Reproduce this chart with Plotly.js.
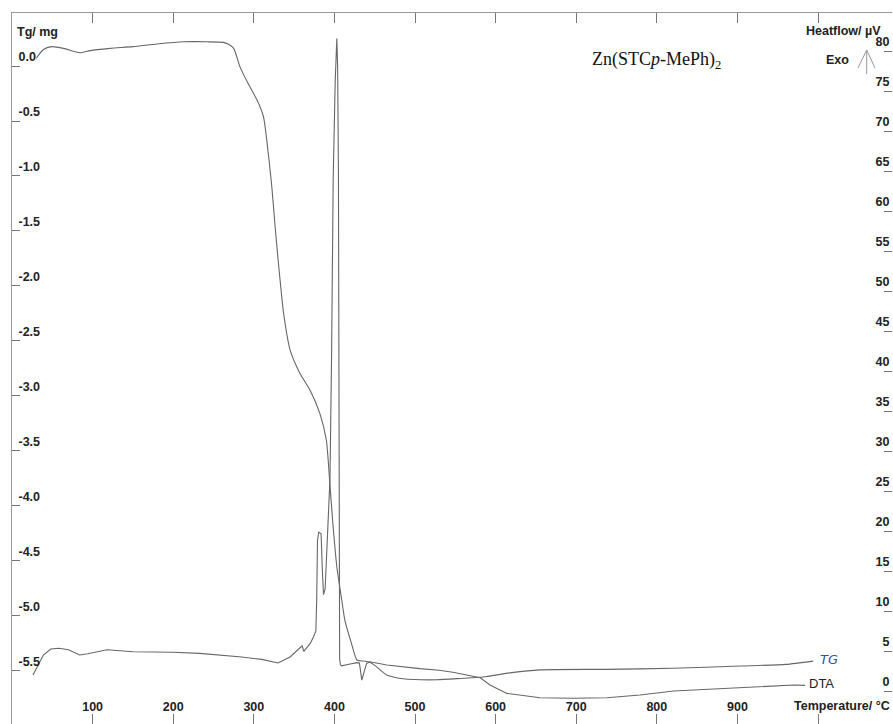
<!DOCTYPE html>
<html>
<head>
<meta charset="utf-8">
<script src="https://cdn.plot.ly/plotly-3.0.1.min.js"></script>
<style>
  html, body { margin: 0; padding: 0; background: #ffffff; overflow: hidden; }
  #chart { width: 893px; height: 724px; }
</style>
</head>
<body>
<div id="chart"></div>
<script>
// ---- Data ----
// TG curve (left axis, mg)
const tgTemp = [30, 39, 49, 64, 84, 97, 122, 150, 180, 213, 242, 262, 268, 275, 283, 293, 304, 312, 316, 322, 326, 330, 334, 337, 345, 357, 370, 382, 390, 394, 398, 403, 409, 413, 421, 428, 436, 444, 452, 465, 485, 527, 560, 581, 589, 620, 655, 738, 820, 903, 960, 994];
const tgMass = [0.07, 0.15, 0.176, 0.16, 0.12, 0.14, 0.16, 0.176, 0.2, 0.22, 0.22, 0.215, 0.2, 0.16, -0.01, -0.16, -0.31, -0.46, -0.67, -1.07, -1.42, -1.75, -2.05, -2.25, -2.58, -2.79, -2.95, -3.16, -3.4, -3.76, -4.15, -4.55, -4.85, -5.04, -5.245, -5.4, -5.41, -5.42, -5.46, -5.536, -5.57, -5.58, -5.566, -5.557, -5.55, -5.515, -5.49, -5.485, -5.475, -5.455, -5.44, -5.41];

// DTA curve (right axis, heat flow µV)
const dtaTemp = [26, 33, 39, 48, 58, 70, 84, 94, 118, 150, 200, 233, 260, 285, 310, 330, 345, 352, 360, 362, 366, 370, 374, 377, 378, 379, 380.5, 383.5, 385, 386.5, 388.5, 390.5, 392.5, 394.5, 396.5, 398.5, 401, 403, 404, 405, 405.5, 405.8, 406.1, 406.5, 407.5, 409, 418, 428, 431, 434, 437, 440, 444, 465, 506, 530, 547, 565, 581, 593, 614, 655, 696, 738, 779, 821, 862, 903, 945, 970, 984];
const dtaHeat = [2.0, 3.45, 4.5, 5.25, 5.35, 5.15, 4.5, 4.65, 5.15, 4.9, 4.85, 4.7, 4.5, 4.25, 3.95, 3.5, 4.25, 4.85, 5.65, 4.95, 5.45, 5.95, 6.75, 7.5, 11.25, 18.75, 19.85, 19.65, 15.25, 12.05, 12.75, 17.0, 21.0, 26.5, 42.0, 64.0, 76.25, 81.55, 78.0, 65.0, 45.0, 25.0, 10.0, 4.0, 3.25, 3.15, 3.35, 3.55, 3.5, 1.35, 2.45, 3.45, 3.65, 3.25, 2.8, 2.6, 2.35, 2.0, 1.65, 0.75, -0.3, -0.85, -0.9, -0.85, -0.5, 0.0, 0.2, 0.45, 0.6, 0.75, 0.7];

// Tick labels
const tempTicks = [100, 200, 300, 400, 500, 600, 700, 800, 900, 1000];
const tempTickText = ['100', '200', '300', '400', '500', '600', '700', '800', '900', ' '];
const tgTicks = [0, -0.5, -1.0, -1.5, -2.0, -2.5, -3.0, -3.5, -4.0, -4.5, -5.0, -5.5];
const tgTickText = ['0.0', '-0.5', '-1.0', '-1.5', '-2.0', '-2.5', '-3.0', '-3.5', '-4.0', '-4.5', '-5.0', '-5.5'];
const hfTicks = [0, 5, 10, 15, 20, 25, 30, 35, 40, 45, 50, 55, 60, 65, 70, 75, 80];
const hfTickText = hfTicks.map(String);

// ---- Plot ----
const lineColor = '#666666';
const txt = '#222222';
const boldFont = {family: 'Liberation Sans, Arial, sans-serif', size: 12.5, color: txt, weight: 'bold'};

const traces = [
  {x: tgTemp, y: tgMass, xaxis: 'x', yaxis: 'y', mode: 'lines', name: 'TG',
   line: {color: lineColor, width: 1.1, shape: 'spline', smoothing: 0.6}, hoverinfo: 'skip', showlegend: false},
  {x: dtaTemp, y: dtaHeat, xaxis: 'x', yaxis: 'y2', mode: 'lines', name: 'DTA',
   line: {color: lineColor, width: 1.1}, hoverinfo: 'skip', showlegend: false}
];

const layout = {
  width: 893, height: 724,
  margin: {l: 12, r: 1, t: 13, b: 0, pad: 0},
  paper_bgcolor: '#ffffff', plot_bgcolor: '#ffffff',
  showlegend: false,
  xaxis: {
    range: [0, 1091.8], tickvals: tempTicks, ticktext: tempTickText,
    ticks: 'inside', ticklen: 10, tickcolor: '#777', tickwidth: 1,
    showline: true, linecolor: '#999', linewidth: 1, mirror: 'ticks',
    ticklabelposition: 'inside', tickfont: boldFont,
    showgrid: false, zeroline: false, fixedrange: true
  },
  yaxis: {
    range: [-5.982, 0.4818], tickvals: tgTicks, ticktext: tgTickText,
    ticks: 'inside', ticklen: 8, tickcolor: '#777', tickwidth: 1,
    showline: true, linecolor: '#999', linewidth: 1, mirror: false,
    ticklabelposition: 'inside', ticklabelshift: -9, ticklabelstandoff: -2, tickfont: boldFont,
    showgrid: false, zeroline: false, fixedrange: true
  },
  yaxis2: {
    overlaying: 'y', side: 'right', anchor: 'x',
    range: [-4.125, 84.75], tickvals: hfTicks, ticktext: hfTickText,
    ticks: 'inside', ticklen: 8, tickcolor: '#777', tickwidth: 1,
    showline: false,
    ticklabelposition: 'inside', ticklabelshift: -9, ticklabelstandoff: -6, tickfont: boldFont,
    showgrid: false, zeroline: false, fixedrange: true
  },
  annotations: [
    {text: 'Tg/ mg', xref: 'paper', yref: 'paper', x: 0.003, y: 0.973,
     xanchor: 'left', yanchor: 'middle', showarrow: false, font: boldFont},
    {text: 'Heatflow/ µV', xref: 'paper', yref: 'paper', x: 0.99, y: 0.975,
     xanchor: 'right', yanchor: 'middle', showarrow: false, font: boldFont},
    {text: 'Exo', xref: 'paper', yref: 'paper', x: 0.9386, y: 0.934,
     xanchor: 'center', yanchor: 'middle', showarrow: false, font: boldFont},
    {text: 'Zn(STC<i>p</i>-MePh)<sub>2</sub>', xref: 'paper', yref: 'paper', x: 0.7324, y: 0.9325,
     xanchor: 'center', yanchor: 'middle', showarrow: false,
     font: {family: 'Liberation Serif, Times New Roman, serif', size: 18, color: '#111'}},
    {text: 'Temperature/ °C', xref: 'paper', yref: 'paper', x: 1.0, y: 0.026,
     xanchor: 'right', yanchor: 'middle', showarrow: false, font: boldFont},
    {text: 'TG', xref: 'paper', yref: 'paper', x: 0.916, y: 0.0914,
     xanchor: 'left', yanchor: 'middle', showarrow: false,
     font: {family: 'DejaVu Sans, sans-serif', size: 13, color: '#2f4fb5', style: 'italic'}},
    {text: 'DTA', xref: 'paper', yref: 'paper', x: 0.903, y: 0.0563,
     xanchor: 'left', yanchor: 'middle', showarrow: false,
     font: {family: 'Liberation Sans, Arial, sans-serif', size: 13, color: '#222'}}
  ],
  shapes: [
    {type: 'line', xref: 'paper', yref: 'paper', x0: 0.97125, x1: 0.97125, y0: 0.9142, y1: 0.948,
     line: {color: '#999', width: 1}},
    {type: 'path', xref: 'paper', yref: 'paper',
     path: 'M0.96136,0.92264 L0.97125,0.948 L0.98068,0.92264',
     line: {color: '#999', width: 1}}
  ]
};

Plotly.newPlot('chart', traces, layout, {staticPlot: true, displayModeBar: false});
</script>
</body>
</html>
